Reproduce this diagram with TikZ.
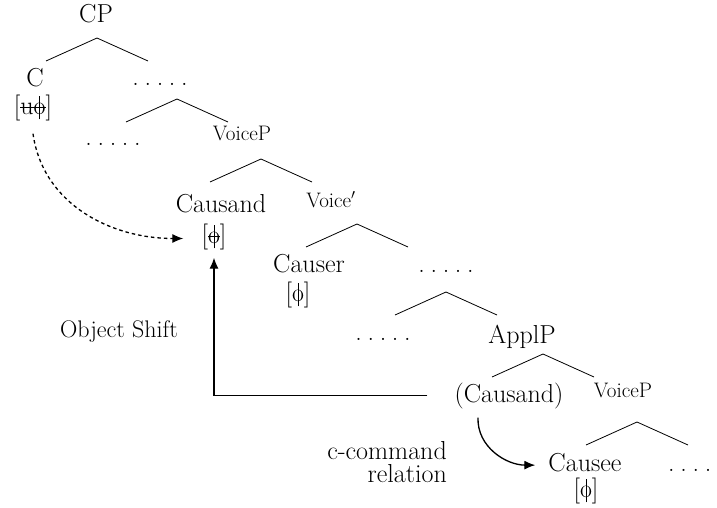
\documentclass[tikz,border=0pt]{standalone}
\usetikzlibrary{arrows.meta}
\newcommand\ph{\sbox2{o}\makebox[\wd2][l]{\rlap{o}\hspace{0.5\wd2}\hspace{-0.35pt}\rule[-0.21em]{0.7pt}{0.9em}}}
\newcommand\strk[1]{\sbox0{#1}\rlap{\raisebox{0.24em}{\rule{\wd0}{0.9pt}}}\usebox0}
\newcommand\fivedots{.\hspace{0.22em}.\hspace{0.22em}.\hspace{0.22em}.\hspace{0.22em}.}
\begin{document}
\begin{tikzpicture}[x=1pt,y=-1pt,
  font=\fontsize{26}{30}\selectfont,
  lab/.style={anchor=base, inner sep=0pt},
  sm/.style={lab, font=\fontsize{21}{24}\selectfont},
  br/.style={line width=0.8pt},
  arr/.style={line width=1.3pt, -{Latex[length=11pt,width=9pt]}}]
\useasboundingbox (0,0) rectangle (717,508);
% labels
\node[lab] (cp) at (96,23) {CP};
\node[lab] (c) at (35,87) {C};
\node[lab] (cu) at (33,114) {[\strk{u\ph}]};
\node[lab] (d1) at (160,86) {\fivedots};
\node[lab] (d2) at (113,146) {\fivedots};
\node[sm] (vp1) at (242,140) {VoiceP};
\node[lab] (cd) at (221,212) {Causand};
\node[lab] (cdp) at (214,243) {[\strk{\ph}]};
\node[sm] (vb) at (331,207) {Voice$'$};
\node[lab] (cr) at (309,272) {Causer};
\node[lab] (crp) at (298,301) {[\ph]};
\node[lab] (d3) at (446,272) {\fivedots};
\node[lab] (d4) at (383,340) {\fivedots};
\node[lab] (ap) at (522,343) {ApplP};
\node[lab] (cs) at (509,402) {(Causand)};
\node[sm] (vp2) at (623,397) {VoiceP};
\node[lab] (ce) at (585,471) {Causee};
\node[lab] (cep) at (586,497) {[\ph]};
\node[lab, anchor=base west] (d5) at (668,471) {\fivedots};
\node[lab, font=\fontsize{24}{28}\selectfont] (os) at (119,337) {Object Shift};
\node[lab, anchor=base east] (cc1) at (447,459) {c-command};
\node[lab, anchor=base east] (cc2) at (447,482) {relation};
% branches
\foreach \n/\ax/\ay in {t1/97/38,t2/177/99,t3/261/159,t4/357/224,t5/446/292,t6/543/354,t7/637/422}{
  \coordinate (\n) at (\ax,\ay);
  \draw[br] (\n) -- ++(-51,23) (\n) -- ++(51,23);
}
% arrows
\draw[arr, dash pattern=on 3.5pt off 3pt]
  ([yshift=-13pt]cu.south) to[out=-82,in=180] ([xshift=-18pt,yshift=-2pt]cdp.west);
\draw[arr] ([xshift=-27pt]cs.west) -| ([yshift=-8pt]cdp.south);
\draw[arr] ([xshift=-31pt,yshift=-9pt]cs.south) to[out=-92,in=180] ([xshift=-13pt,yshift=-3pt]ce.west);
\end{tikzpicture}
\end{document}
